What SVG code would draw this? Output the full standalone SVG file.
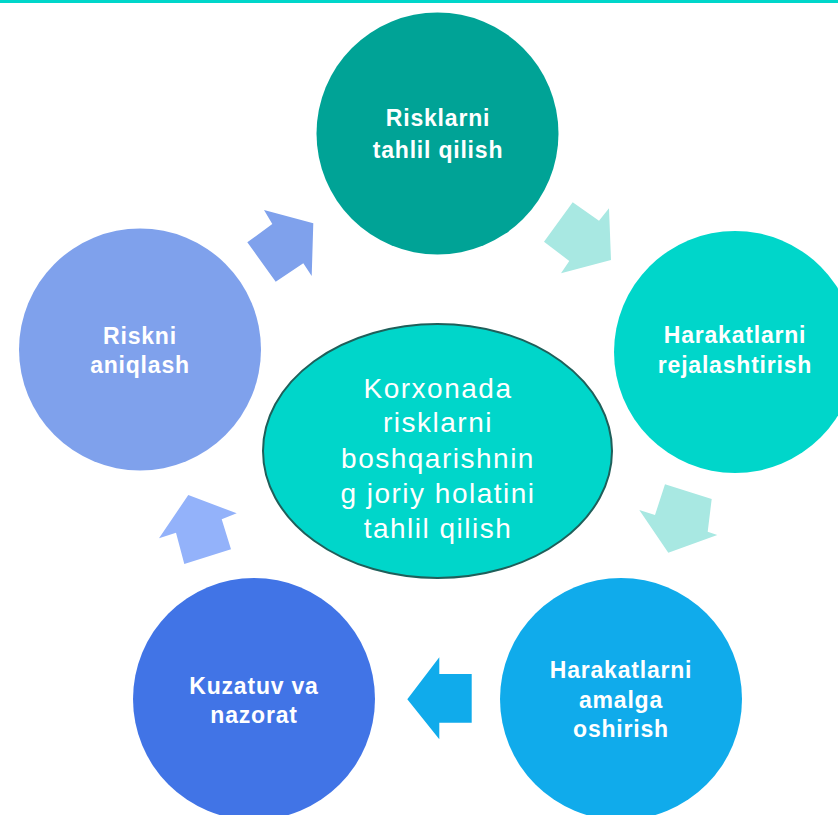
<svg xmlns="http://www.w3.org/2000/svg" width="838" height="815" viewBox="0 0 838 815">
<style>
.lbl{font-family:"Liberation Sans",Arial,sans-serif;font-weight:bold;font-size:23px;fill:#ffffff;text-anchor:middle;letter-spacing:0.8px}
.ctr{font-family:"Liberation Sans",Arial,sans-serif;font-size:28px;fill:#ffffff;text-anchor:middle;letter-spacing:1.5px}
</style>
<rect x="0" y="0" width="838" height="815" fill="#ffffff"/>
<rect x="0" y="0" width="838" height="3" fill="#00D6CA"/>
<g id="connectors">
<polygon points="572.7,202.3 599,220.7 609,208.3 611,260 561,273.3 569.3,261 544,241.7" fill="#A8E8E2"/>
<polygon points="665,484.3 711.7,499 707.7,531.7 717.3,535 668.3,552.7 639.3,510 655,515" fill="#A8E8E2"/>
<polygon points="439.3,657.3 439.3,674 471.7,674 471.7,722.7 439.3,722.7 439.3,739.3 407.3,699.3" fill="#10ABEB"/>
<polygon points="188.3,495 236.7,513.3 221.7,519.3 231,549.3 184.3,564 176,532.7 159,538.3" fill="#93B2FA"/>
<polygon points="264,210 313.3,223.3 311.7,276 303.3,263.3 275.7,281.7 247.3,242.3 272.3,224" fill="#7FA1EC"/>
</g>
<g id="node-tahlil">
<circle cx="437.5" cy="133.5" r="121" fill="#00A396"/>
<text class="lbl" x="438" y="126">Risklarni</text>
<text class="lbl" x="438" y="158">tahlil qilish</text>
</g>
<g id="node-rejalashtirish">
<circle cx="735" cy="352" r="121" fill="#00D6CA"/>
<text class="lbl" x="735" y="343">Harakatlarni</text>
<text class="lbl" x="735" y="373">rejalashtirish</text>
</g>
<g id="node-amalga">
<circle cx="621" cy="699" r="121" fill="#10ABEB"/>
<text class="lbl" x="621" y="678">Harakatlarni</text>
<text class="lbl" x="621" y="708">amalga</text>
<text class="lbl" x="621" y="737">oshirish</text>
</g>
<g id="node-kuzatuv">
<circle cx="254" cy="699" r="121" fill="#4174E6"/>
<text class="lbl" x="254" y="694">Kuzatuv va</text>
<text class="lbl" x="254" y="723">nazorat</text>
</g>
<g id="node-aniqlash">
<circle cx="140" cy="349.5" r="121" fill="#7FA1EC"/>
<text class="lbl" x="140" y="344">Riskni</text>
<text class="lbl" x="140" y="373">aniqlash</text>
</g>
<g id="node-center">
<ellipse cx="437.5" cy="451" rx="174.5" ry="127" fill="#00D6CA" stroke="#1F5F5A" stroke-width="2"/>
<text class="ctr" x="438" y="398">Korxonada</text>
<text class="ctr" x="438" y="432">risklarni</text>
<text class="ctr" x="438" y="468">boshqarishnin</text>
<text class="ctr" x="438" y="503">g joriy holatini</text>
<text class="ctr" x="438" y="538">tahlil qilish</text>
</g>
</svg>
